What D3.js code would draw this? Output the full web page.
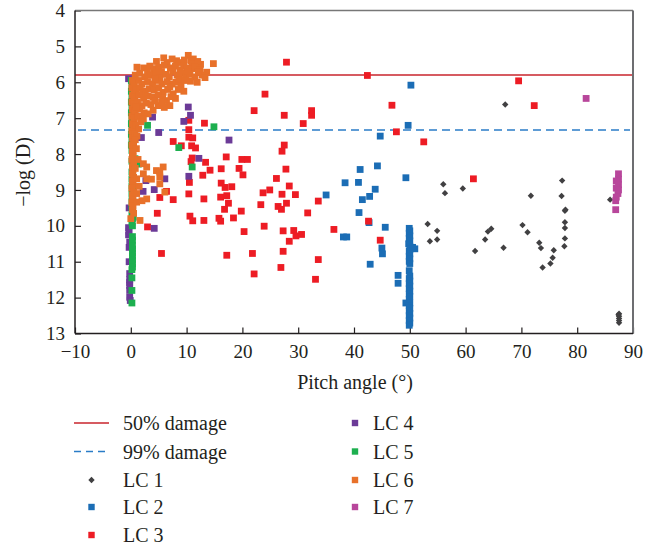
<!DOCTYPE html>
<html>
<meta charset="utf-8">
<head>
<script src="https://cdnjs.cloudflare.com/ajax/libs/d3/7.8.5/d3.min.js"></script>
</head>
<style>
body { margin: 0; background: #fff; }
svg text { font-family: "Liberation Serif", "DejaVu Serif", serif; fill: #231f20; }
.axis .domain { display: none; }
.axis .tick line { stroke: #231f20; stroke-width: 1.2px; }
.axis .tick text { font-size: 19px; }
</style>
<body>
<svg id="canvas" width="660" height="548"></svg>
<script>
// reference damage levels
const damage50 = 5.8;
const damage99 = 7.33;

const xTicks = [-10, 0, 10, 20, 30, 40, 50, 60, 70, 80, 90];
const yTicks = [4, 5, 6, 7, 8, 9, 10, 11, 12, 13];

// [pitch angle, -log(D)]
const lc1 = [[56.0,8.84],[56.3,9.09],[59.5,8.96],[53.2,9.95],[53.6,10.43],[54.9,10.14],[54.9,10.38],
  [61.7,10.70],[63.5,10.38],[64.0,10.16],[64.6,10.08],[66.8,10.61],[67.1,6.62],[70.2,9.98],[71.1,10.18],
  [71.7,9.16],[73.2,10.47],[73.5,10.62],[73.8,11.16],[75.2,11.05],[75.6,10.89],[75.8,10.68],[77.3,8.74],
  [77.2,9.17],[77.8,9.58],[77.8,9.90],[77.8,10.06],[77.8,10.35],[77.7,10.57],[77.9,9.55],[85.9,9.27],
  [87.5,12.45],[87.5,12.52],[87.5,12.58],[87.5,12.64],[87.5,12.70],[87.4,12.48]];

const lc2 = [[50.2,6.08],[49.7,7.20],[44.7,7.50],[41.1,8.43],[44.2,8.33],[38.4,8.80],[40.8,8.79],
  [49.3,8.66],[35.0,9.14],[43.8,8.98],[42.8,9.18],[41.5,9.27],[40.9,9.63],[42.7,9.91],[45.6,10.04],
  [38.1,10.31],[38.7,10.31],[45.0,10.62],[45.1,10.78],[42.9,11.07],[47.9,11.38],[47.9,11.60],
  [49.9,10.07],[50.0,10.14],[49.9,10.21],[50.0,10.28],[49.9,10.35],[50.0,10.42],[49.8,10.50],
  [50.0,10.57],[50.1,10.64],[49.9,10.71],[50.0,10.78],[49.9,10.85],[50.0,10.92],[49.9,10.99],
  [50.0,11.05],[49.9,11.25],[50.0,11.40],[49.9,11.47],[50.0,11.54],[49.9,11.61],[50.0,11.68],
  [49.9,11.75],[50.0,11.82],[49.9,11.90],[50.0,11.97],[49.9,12.05],[49.3,12.15],[50.0,12.15],
  [49.9,12.22],[50.0,12.30],[49.9,12.37],[50.0,12.44],[49.9,12.50],[50.0,12.57],[49.9,12.64],
  [50.0,12.71],[49.9,12.77],[50.9,10.64],[50.5,10.60]];

const lc3 = [[27.9,5.44],[24.05,6.33],[22.1,6.79],[27.5,6.92],[30.9,7.15],[32.4,6.79],[32.4,6.92],
  [10.4,7.06],[13.2,7.14],[10.4,7.32],[10.4,7.53],[11.1,7.55],[7.6,7.65],[9.05,7.77],[10.9,7.77],
  [11.6,7.83],[27.5,7.75],[27.1,7.92],[17.1,8.08],[11.0,8.11],[10.8,8.21],[13.4,8.23],[19.9,8.15],
  [20.9,8.15],[16.2,8.41],[14.2,8.45],[19.4,8.40],[27.8,8.42],[20.1,8.58],[12.9,8.59],[26.1,8.68],
  [10.5,8.79],[16.2,8.81],[16.9,8.93],[18.1,8.91],[24.9,9.00],[23.7,9.08],[28.4,8.89],[29.5,9.13],
  [27.1,9.12],[10.4,9.11],[6.4,9.04],[5.2,9.21],[7.6,9.27],[13.1,9.25],[16.1,9.20],[17.2,9.16],
  [17.5,9.37],[23.3,9.41],[26.4,9.46],[27.9,9.37],[16.8,9.54],[19.8,9.59],[27.0,9.54],[31.7,9.64],
  [4.75,9.65],[10.6,9.73],[11.1,9.86],[13.1,9.85],[15.8,9.79],[16.1,9.87],[18.4,9.78],[3.0,10.03],
  [23.9,10.01],[20.3,10.16],[27.3,10.14],[29.2,10.13],[29.6,10.28],[30.6,10.24],[28.4,10.43],
  [5.5,10.77],[17.2,10.82],[21.8,10.77],[27.3,10.71],[26.9,11.16],[22.1,11.34],[33.6,10.94],
  [33.1,11.49],[33.6,9.31],[42.4,5.81],[46.8,6.64],[47.6,7.38],[52.5,7.66],[36.4,10.10],[42.6,9.87],
  [44.7,10.40],[61.4,8.69],[69.5,5.96],[72.3,6.65]];

const lc4 = [[10.3,6.69],[10.7,6.92],[9.5,7.09],[3.9,6.97],[5.0,7.40],[1.9,7.54],[17.6,7.61],
  [12.2,8.12],[10.4,8.62],[6.1,8.69],[2.7,8.74],[4.2,8.99],[2.2,9.04],[4.2,10.07],[-0.4,5.90],
  [-0.3,9.50],[-0.4,10.05],[-0.3,10.15],[-0.4,10.25],[-0.2,10.45],[-0.3,10.60],[-0.3,11.00],
  [-0.2,11.33],[-0.2,11.50],[-0.2,11.58],[-0.2,11.66],[-0.2,11.80],[-0.2,11.99],[-0.1,12.08]];

const lc5 = [[0.1,5.95],[0.2,6.10],[0.1,6.25],[0.2,6.40],[0.1,6.55],[0.2,6.70],[0.1,6.85],[0.2,7.00],
  [0.1,7.15],[0.2,7.30],[0.1,7.45],[0.2,7.60],[0.1,7.75],[0.2,7.90],[0.3,8.05],[0.2,8.20],[0.3,8.35],
  [0.2,8.50],[0.3,8.60],[0.2,8.70],[0.3,8.80],[0.2,8.90],[0.3,9.00],[0.2,9.10],[0.3,9.20],[0.2,9.30],
  [0.3,9.40],[0.2,9.50],[0.3,9.60],[0.2,9.70],[0.3,9.80],[0.2,9.90],[0.3,10.00],[0.3,10.30],[0.3,10.40],
  [0.3,10.55],[0.3,10.65],[0.3,10.75],[0.3,10.85],[0.3,10.95],[0.3,11.05],[0.3,11.15],[0.2,11.22],
  [0.2,11.45],[0.2,11.80],[0.2,12.15],[3.0,7.20],[14.9,7.24],[8.6,7.82],[11.0,8.36],[1.35,8.28],
  [0.75,8.13],[0.45,9.76]];

const lc6 = [[0.3,5.95],[0.5,6.05],[0.2,6.15],[0.6,6.25],[0.3,6.35],[0.5,6.45],[0.2,6.55],[0.6,6.65],
  [0.3,6.75],[0.5,6.85],[0.2,6.95],[0.6,7.05],[0.3,7.15],[0.5,7.25],[0.2,7.35],[0.4,7.45],[0.3,7.55],
  [0.5,7.65],[0.2,7.75],[0.4,7.85],[0.3,7.95],[0.4,8.05],[0.2,8.15],[0.5,8.25],[0.3,8.35],[0.4,8.45],
  [0.3,8.55],[0.5,8.65],[0.3,8.75],[0.4,8.85],[0.2,8.95],[0.5,9.05],[0.3,9.15],[0.4,9.25],[0.2,9.35],
  [0.4,9.45],[0.3,9.55],[0.5,9.65],[0.0,9.80],
  [5.9,5.32],[10.3,5.25],[11.2,5.35],[8.2,5.40],[4.6,5.42],[6.5,5.45],[9.6,5.38],[11.8,5.48],
  [14.8,5.48],[10.8,5.40],[12.5,5.50],[7.4,5.35],[9.0,5.45],[11.0,5.50],[12.0,5.42],
  [1.1,5.58],[2.3,5.60],[3.4,5.55],[4.2,5.62],[5.0,5.58],[6.0,5.52],[7.1,5.60],[8.0,5.55],[8.8,5.65],
  [9.5,5.55],[10.0,5.60],[10.9,5.62],[11.5,5.58],[12.4,5.65],[13.6,5.72],[7.5,5.70],[5.5,5.70],[3.0,5.70],
  [0.8,5.80],[1.6,5.75],[2.5,5.85],[3.6,5.80],[4.5,5.75],[5.2,5.88],[6.3,5.78],[6.9,5.85],[8.3,5.80],
  [9.1,5.75],[9.8,5.85],[10.6,5.78],[11.5,5.85],[12.8,5.80],[13.3,5.87],[10.2,5.70],[12.1,5.72],
  [0.6,6.00],[1.4,5.95],[2.0,6.05],[3.0,5.98],[3.9,6.05],[4.8,5.95],[5.6,6.05],[6.5,5.98],[7.4,6.05],
  [8.1,6.00],[9.0,6.08],[10.7,5.97],[11.9,6.00],[8.6,5.92],[9.7,5.95],[4.3,5.90],
  [0.9,6.20],[1.7,6.15],[2.6,6.25],[3.3,6.18],[4.2,6.22],[5.0,6.15],[5.8,6.28],[6.6,6.20],[7.6,6.32],
  [8.5,6.20],[9.5,6.25],[7.0,6.12],[2.1,6.30],
  [0.7,6.40],[1.5,6.35],[2.3,6.45],[3.1,6.38],[4.0,6.42],[4.9,6.35],[5.7,6.45],[6.4,6.51],[7.2,6.40],[8.0,6.45],
  [0.5,6.60],[1.2,6.55],[2.0,6.65],[2.8,6.58],[3.6,6.62],[4.9,6.65],[5.5,6.55],[7.0,6.65],[6.0,6.70],
  [4.3,6.52],[0.8,6.80],[1.6,6.75],[2.4,6.85],[3.1,6.88],[4.0,6.78],[1.0,6.68],
  [0.6,7.00],[1.3,6.95],[2.25,7.02],[1.8,7.10],
  [0.9,7.20],[1.4,7.30],[0.75,7.43],[1.1,7.50],[0.8,7.60],[0.5,7.75],[1.0,7.85],[0.4,7.95],
  [2.25,8.27],[2.85,8.36],[5.8,8.36],[4.6,8.46],[1.05,8.69],[2.25,8.55],[2.85,8.69],[5.2,8.64],
  [5.2,8.83],[5.2,8.50],[6.1,9.06],[1.05,9.10],[2.85,9.25],[1.05,9.34],[1.65,9.85],[1.5,8.90],
  [0.8,8.40],[3.7,8.70],[2.0,9.30],[1.3,8.15]];

const lc7 = [[81.6,6.45],[87.4,8.55],[87.4,8.70],[87.0,8.75],[87.4,8.85],[87.0,8.95],[87.4,9.00],
  [87.3,9.10],[87.0,9.20],[86.9,9.30],[86.9,9.55]];

const series = [
  {name: "LC 1", data: lc1, color: "#414042", shape: "diamond"},
  {name: "LC 2", data: lc2, color: "#1b6db5", shape: "square"},
  {name: "LC 3", data: lc3, color: "#ed1c24", shape: "square"},
  {name: "LC 4", data: lc4, color: "#6b3a97", shape: "square"},
  {name: "LC 5", data: lc5, color: "#1daf4f", shape: "square"},
  {name: "LC 6", data: lc6, color: "#e8712a", shape: "square"},
  {name: "LC 7", data: lc7, color: "#b8469b", shape: "square"}
];

const svg = d3.select('#canvas');
const plotLeft = 75, plotRight = 633, plotTop = 10.5, plotBottom = 333.5;
const serif = '"Liberation Serif", "DejaVu Serif", serif';
const half = 3.4; // half side of the square markers

const x = d3.scaleLinear().domain([-10, 90]).range([plotLeft, plotRight]);
const y = d3.scaleLinear().domain([4, 13]).range([plotTop, plotBottom]);

// axes (inner ticks)
svg.append('g').classed('axis', true)
   .attr('transform', `translate(0,${plotBottom})`)
   .call(d3.axisBottom(x).tickValues(xTicks).tickSize(-6).tickPadding(11))
   .attr('font-family', serif).attr('font-size', 19);
svg.append('g').classed('axis', true)
   .attr('transform', `translate(${plotLeft},0)`)
   .call(d3.axisLeft(y).tickValues(yTicks).tickSize(-6).tickPadding(10))
   .attr('font-family', serif).attr('font-size', 19);

// damage lines
svg.append('line')
   .attr('x1', plotLeft).attr('x2', plotRight)
   .attr('y1', y(damage50)).attr('y2', y(damage50))
   .attr('stroke', '#c9252c').attr('stroke-width', 1.5);
svg.append('line')
   .attr('x1', plotLeft + 3).attr('x2', plotRight - 3)
   .attr('y1', y(damage99)).attr('y2', y(damage99))
   .attr('stroke', '#2a7cc7').attr('stroke-width', 1.5)
   .attr('stroke-dasharray', '8,5');

// points
const diamond = d3.symbol(d3.symbolDiamond2, 26);
series.forEach(s => {
  const g = svg.append('g');
  if (s.shape === 'diamond') {
    g.selectAll('path').data(s.data).join('path')
     .attr('d', diamond)
     .attr('transform', d => `translate(${x(d[0])},${y(d[1])})`)
     .attr('fill', s.color);
  } else {
    g.selectAll('rect').data(s.data).join('rect')
     .attr('x', d => x(d[0]) - half).attr('y', d => y(d[1]) - half)
     .attr('width', half * 2).attr('height', half * 2)
     .attr('fill', s.color);
  }
});

// frame: grey top/right, black left/bottom
svg.append('line').attr('x1', plotLeft).attr('x2', plotRight).attr('y1', plotTop).attr('y2', plotTop)
   .attr('stroke', '#777').attr('stroke-width', 1.5);
svg.append('line').attr('x1', plotRight).attr('x2', plotRight).attr('y1', plotTop).attr('y2', plotBottom)
   .attr('stroke', '#6d6e71').attr('stroke-width', 2);
svg.append('line').attr('x1', plotLeft).attr('x2', plotRight).attr('y1', plotBottom).attr('y2', plotBottom)
   .attr('stroke', '#231f20').attr('stroke-width', 1.5);
svg.append('line').attr('x1', plotLeft).attr('x2', plotLeft).attr('y1', plotTop).attr('y2', plotBottom)
   .attr('stroke', '#231f20').attr('stroke-width', 1.5);

// axis titles
svg.append('text').text('Pitch angle (°)')
   .attr('x', 355).attr('y', 389).attr('text-anchor', 'middle')
   .style('font-size', '20px');
svg.append('text').text('−log (D)')
   .attr('transform', 'translate(30,172) rotate(-90)')
   .attr('text-anchor', 'middle')
   .style('font-size', '20px');

// legend
const rowY = [423, 451.5, 480, 507, 535];
const leg = svg.append('g');
leg.append('line').attr('x1', 74).attr('x2', 109).attr('y1', rowY[0]).attr('y2', rowY[0])
   .attr('stroke', '#c9252c').attr('stroke-width', 1.5);
leg.append('line').attr('x1', 74).attr('x2', 109).attr('y1', rowY[1]).attr('y2', rowY[1])
   .attr('stroke', '#2a7cc7').attr('stroke-width', 1.5).attr('stroke-dasharray', '7,5');
leg.append('text').text('50% damage').attr('x', 123).attr('y', rowY[0]).attr('dy', '0.35em').style('font-size', '20px');
leg.append('text').text('99% damage').attr('x', 123).attr('y', rowY[1]).attr('dy', '0.35em').style('font-size', '20px');

series.forEach((s, i) => {
  const col = i < 3 ? 0 : 1;
  const row = i < 3 ? i + 2 : i - 3;
  const mx = col === 0 ? 91.5 : 355;
  const tx = col === 0 ? 123 : 373;
  const yy = rowY[row];
  if (s.shape === 'diamond') {
    leg.append('path').attr('d', diamond).attr('transform', `translate(${mx},${yy})`).attr('fill', s.color);
  } else {
    leg.append('rect').attr('x', mx - 3.2).attr('y', yy - 3.2).attr('width', 6.4).attr('height', 6.4).attr('fill', s.color);
  }
  leg.append('text').text(s.name).attr('x', tx).attr('y', yy).attr('dy', '0.35em').style('font-size', '20px');
});
</script>
</body>
</html>
